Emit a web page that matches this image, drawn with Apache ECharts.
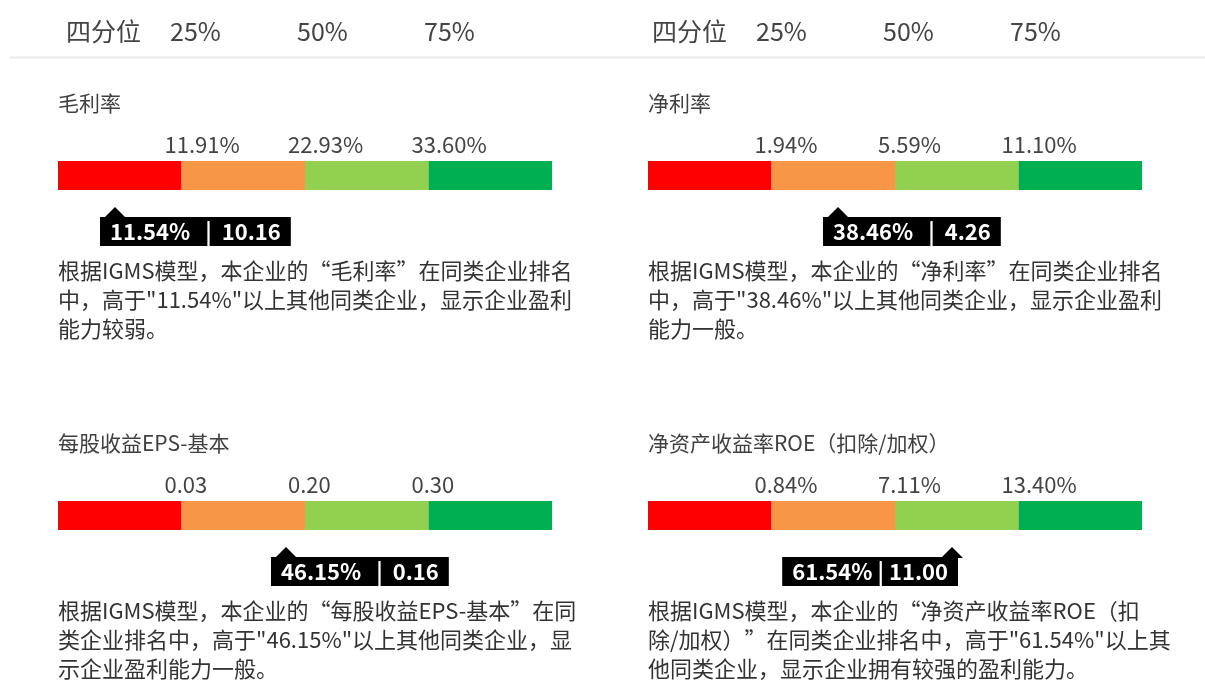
<!DOCTYPE html>
<html>
<head>
    <meta charset="UTF-8">
    <title>四分位 盈利能力</title>
    <script src="https://cdn.jsdelivr.net/npm/echarts@6/dist/echarts.min.js"></script>
    <style>body { margin: 0; background: #fff; }</style>
</head>
<body>
    <div id="main" style="width: 1205px;height:680px;"></div>
    <script type="text/javascript">
        var indicatorNames = ['毛利率', '净利率', '每股收益EPS-基本', '净资产收益率ROE（扣除/加权）'];
        var quartileValues = [
            ['11.91%', '22.93%', '33.60%'],
            ['1.94%', '5.59%', '11.10%'],
            ['0.03', '0.20', '0.30'],
            ['0.84%', '7.11%', '13.40%']
        ];
        var rankPercents = [11.54, 38.46, 46.15, 61.54];
        var ownValues = ['10.16', '4.26', '0.16', '11.00'];
        var quartileHeads = ['25%', '50%', '75%'];
        var quartileTicks = [25, 50, 75];
        var segmentSizes = [25, 25, 25, 25];
        var segmentColors = ['#ff0000', '#f79646', '#92d050', '#00b050'];
        var descriptions = [
            '根据IGMS模型，本企业的“毛利率”在同类企业排名\n中，高于"11.54%"以上其他同类企业，显示企业盈利\n能力较弱。',
            '根据IGMS模型，本企业的“净利率”在同类企业排名\n中，高于"38.46%"以上其他同类企业，显示企业盈利\n能力一般。',
            '根据IGMS模型，本企业的“每股收益EPS-基本”在同\n类企业排名中，高于"46.15%"以上其他同类企业，显\n示企业盈利能力一般。',
            '根据IGMS模型，本企业的“净资产收益率ROE（扣\n除/加权）”在同类企业排名中，高于"61.54%"以上其\n他同类企业，显示企业拥有较强的盈利能力。'
        ];

        var font = '"Noto Sans CJK SC", "Microsoft YaHei", sans-serif';
        var panelLeft = [58, 648, 58, 648];
        var panelTop = [161, 161, 501, 501];
        var barLen = 494, barH = 29;
        // 刻度文字左对齐, 比分界线靠左约17px
        var labelShift = 17 / barLen * 100;

        var myChart = echarts.init(document.getElementById('main'));

        var grids = [], xAxes = [], yAxes = [], series = [], graphics = [];

        // 顶部 四分位 表头
        [0, 586].forEach(function (dx) {
            graphics.push({
                type: 'text', x: 66 + dx, y: 31,
                style: { text: '四分位', fontSize: 25, fontFamily: font, fill: '#444', verticalAlign: 'middle' }
            });
            [170, 297, 424].forEach(function (hx, k) {
                graphics.push({
                    type: 'text', x: hx + dx, y: 31,
                    style: { text: quartileHeads[k], fontSize: 25, fontFamily: font, fill: '#444', verticalAlign: 'middle' }
                });
            });
        });
        graphics.push({
            type: 'line', shape: { x1: 10, y1: 57.5, x2: 1205, y2: 57.5 },
            style: { stroke: '#ebebeb', lineWidth: 2 }
        });

        indicatorNames.forEach(function (name, i) {
            var q = quartileValues[i];
            grids.push({ left: panelLeft[i], top: panelTop[i], width: barLen, height: barH });
            xAxes.push({
                gridIndex: i, type: 'value', min: 0, max: 100, interval: 25, position: 'top',
                axisLine: { show: false }, axisTick: { show: false }, splitLine: { show: false },
                axisLabel: {
                    margin: 5, fontSize: 22, fontFamily: font, color: '#444', align: 'left',
                    customValues: quartileTicks.map(function (t) { return t - labelShift; }),
                    formatter: function (v) {
                        return q[Math.round((v + labelShift) / 25) - 1] || '';
                    }
                }
            });
            yAxes.push({ gridIndex: i, type: 'category', data: ['v'], show: false });

            segmentSizes.forEach(function (s, k) {
                series.push({
                    type: 'bar', xAxisIndex: i, yAxisIndex: i, stack: 'q' + i,
                    barWidth: barH, data: [s], silent: true,
                    itemStyle: { color: segmentColors[k] }
                });
            });

            // 本企业位置标记
            var right = rankPercents[i] > 50;
            series.push({
                type: 'scatter', xAxisIndex: i, yAxisIndex: i, z: 5,
                data: [[rankPercents[i], 'v']],
                symbol: 'triangle', symbolSize: [22, 11], symbolOffset: [0, 37],
                itemStyle: { color: '#000', opacity: 1 },
                label: {
                    show: true,
                    position: right ? [17, 10] : [-4, 10],
                    align: right ? 'right' : 'left',
                    formatter: rankPercents[i].toFixed(2) + '%' + (right ? ' | ' : '   |  ') + ownValues[i],
                    backgroundColor: '#000', color: '#fff',
                    fontSize: 22, fontWeight: 'bold', fontFamily: font,
                    lineHeight: 25, padding: [2, 10, 2, 10]
                }
            });

            graphics.push({
                type: 'text', x: panelLeft[i], y: panelTop[i] - 58,
                style: { text: name, fontSize: 21, fontFamily: font, fill: '#404040', verticalAlign: 'middle' }
            });
            graphics.push({
                type: 'text', x: panelLeft[i], y: panelTop[i] + 95,
                style: {
                    text: descriptions[i], fontSize: 22, fontFamily: font, fill: '#333',
                    lineHeight: 29, verticalAlign: 'top'
                }
            });
        });

        myChart.setOption({
            animation: false,
            grid: grids,
            xAxis: xAxes,
            yAxis: yAxes,
            series: series,
            graphic: graphics
        });
    </script>
</body>
</html>
